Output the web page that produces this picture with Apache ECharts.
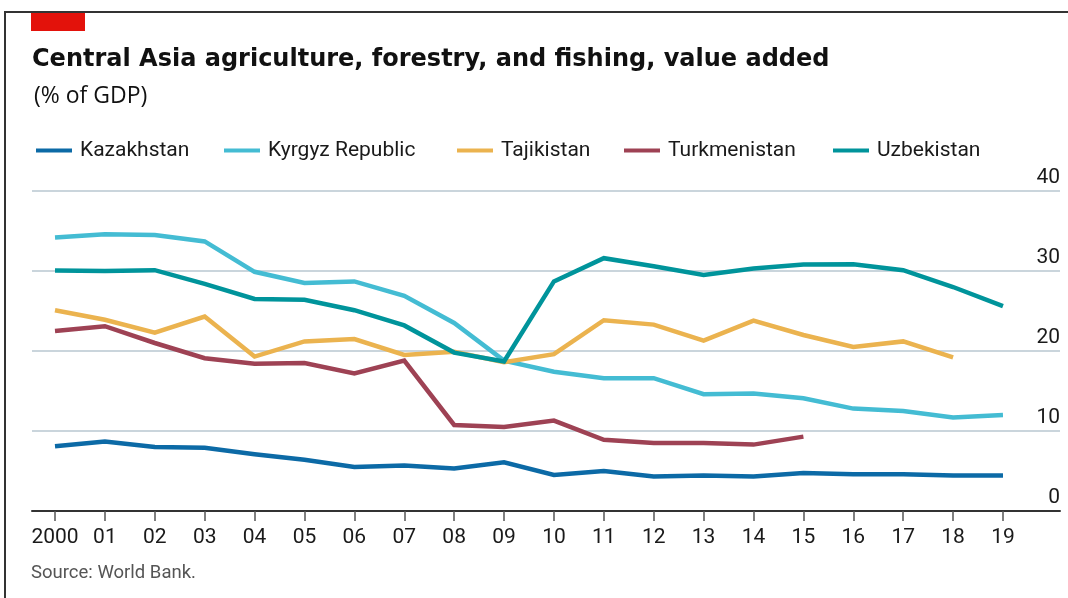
<!DOCTYPE html>
<html>
<head>
<meta charset="utf-8">
<script src="https://cdn.jsdelivr.net/npm/echarts@6.0.0/dist/echarts.min.js"></script>
<style>
  html, body { margin: 0; padding: 0; background: #fff; }
  #chart { width: 1068px; height: 598px; }
</style>
</head>
<body>
<div id="chart"></div>
<script>
// data, % of GDP
var years = [2000, 2001, 2002, 2003, 2004, 2005, 2006, 2007, 2008, 2009, 2010, 2011, 2012, 2013, 2014, 2015, 2016, 2017, 2018, 2019];
var yearLabels = ['2000', '01', '02', '03', '04', '05', '06', '07', '08', '09', '10', '11', '12', '13', '14', '15', '16', '17', '18', '19'];
var kazakhstan = [8.1, 8.7, 8.0, 7.9, 7.1, 6.4, 5.5, 5.7, 5.3, 6.1, 4.5, 5.0, 4.3, 4.45, 4.3, 4.75, 4.6, 4.6, 4.45, 4.45];
var kyrgyz = [34.2, 34.6, 34.5, 33.7, 29.9, 28.5, 28.7, 26.9, 23.5, 18.8, 17.4, 16.6, 16.6, 14.6, 14.7, 14.1, 12.8, 12.5, 11.7, 12.0];
var tajikistan = [25.1, 23.9, 22.3, 24.3, 19.3, 21.2, 21.5, 19.5, 19.9, 18.6, 19.6, 23.85, 23.3, 21.3, 23.8, 22.0, 20.5, 21.2, 19.2, null];
var turkmenistan = [22.5, 23.1, 21.0, 19.1, 18.4, 18.5, 17.2, 18.8, 10.75, 10.5, 11.3, 8.9, 8.5, 8.5, 8.3, 9.3, null, null, null, null];
var uzbekistan = [30.05, 30.0, 30.1, 28.4, 26.5, 26.4, 25.1, 23.2, 19.8, 18.7, 28.7, 31.6, 30.6, 29.5, 30.3, 30.8, 30.85, 30.1, 28.0, 25.6];
var yTicks = [0, 10, 20, 30, 40];

var FONT = 'Roboto';
var HEAD_FONT = 'Open Sans';

function pairs(vals) {
    var out = [];
    for (var i = 0; i < years.length; i++) {
        if (vals[i] != null) out.push([years[i], vals[i]]);
    }
    return out;
}

function line(name, vals, color) {
    return {
        name: name,
        type: 'line',
        data: pairs(vals),
        symbol: 'none',
        lineStyle: { color: color, width: 4.5, cap: 'butt', join: 'miter' },
        itemStyle: { color: color },
        animation: false
    };
}

function legendItem(name, left) {
    return {
        data: [name],
        left: left,
        top: 135,
        icon: 'rect',
        itemWidth: 36,
        itemHeight: 4,
        textStyle: { fontFamily: FONT, fontSize: 21, color: '#1a1a1a', padding: [0, 0, 0, 3] }
    };
}

var chart = echarts.init(document.getElementById('chart'));

var option = {
    backgroundColor: '#fff',
    animation: false,
    graphic: [
        { type: 'rect', shape: { x: 4, y: 11, width: 1064, height: 2 }, style: { fill: '#333' } },
        { type: 'rect', shape: { x: 4, y: 11, width: 2, height: 587 }, style: { fill: '#333' } },
        { type: 'rect', shape: { x: 31, y: 13, width: 54, height: 18 }, style: { fill: '#e3120b' } },
        { type: 'text', left: 32, top: 48, style: { text: 'Central Asia agriculture, forestry, and fishing, value added', fontFamily: 'DejaVu Sans', fontWeight: 'bold', fontSize: 24, fill: '#111' } },
        { type: 'text', left: 34, top: 85, style: { text: '(% of GDP)', fontFamily: HEAD_FONT, fontSize: 23, fill: '#111' } },
        { type: 'text', left: 31, top: 564, style: { text: 'Source: World Bank.', fontFamily: FONT, fontSize: 18.5, fill: '#555' } }
    ],
    legend: [
        legendItem('Kazakhstan', 31),
        legendItem('Kyrgyz Republic', 219),
        legendItem('Tajikistan', 452),
        legendItem('Turkmenistan', 619),
        legendItem('Uzbekistan', 828)
    ],
    grid: { left: 32, right: 8, top: 191, bottom: 87 },
    xAxis: {
        type: 'value',
        min: 1999.539,
        max: 2020.143,
        splitLine: { show: false },
        axisLine: { show: true, lineStyle: { color: '#333', width: 2 } },
        axisTick: { show: true, customValues: years, length: 10, lineStyle: { color: '#555', width: 1.5 } },
        axisLabel: {
            customValues: years,
            margin: 16,
            fontFamily: FONT,
            fontSize: 21,
            color: '#1a1a1a',
            formatter: function (v) { return yearLabels[years.indexOf(v)]; }
        }
    },
    yAxis: {
        type: 'value',
        position: 'right',
        min: 0,
        max: 40,
        interval: 10,
        axisLine: { show: false },
        axisTick: { show: false },
        splitLine: { lineStyle: { color: '#b9c7d1', width: 1.5 } },
        axisLabel: {
            inside: true,
            margin: 0,
            verticalAlign: 'bottom',
            padding: [0, 0, 3, 0],
            fontFamily: FONT,
            fontSize: 21,
            color: '#1a1a1a',
            formatter: function (v) { return yTicks.indexOf(v) >= 0 ? String(v) : ''; }
        }
    },
    series: [
        line('Kazakhstan', kazakhstan, '#0c6aa6'),
        line('Kyrgyz Republic', kyrgyz, '#44bcd3'),
        line('Tajikistan', tajikistan, '#ebb34f'),
        line('Turkmenistan', turkmenistan, '#9e4254'),
        line('Uzbekistan', uzbekistan, '#00949b')
    ]
};

option && chart.setOption(option);
</script>
</body>
</html>
